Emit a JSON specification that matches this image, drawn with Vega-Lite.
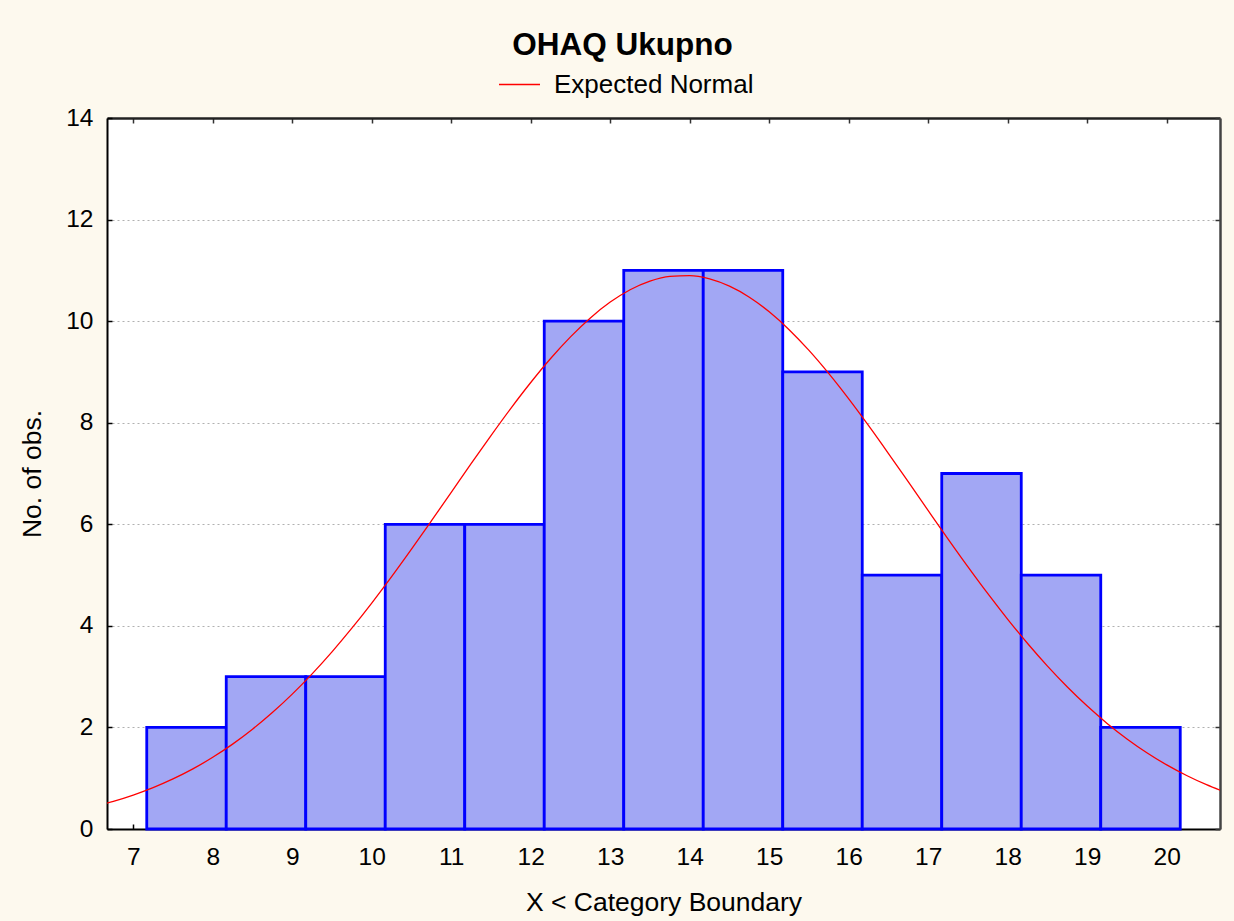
{
  "$schema": "https://vega.github.io/schema/vega-lite/v6.json",
  "width": 1113,
  "height": 711,
  "autosize": {"type": "none"},
  "padding": {"left": 107, "top": 118, "right": 14, "bottom": 92},
  "background": "#fdf9ee",
  "config": {"view": {"fill": "#ffffff", "stroke": null}, "font": "Liberation Sans"},
  "title": {"text": "OHAQ Ukupno", "fontSize": 31.5, "fontWeight": "bold", "color": "#000000", "anchor": "middle", "dx": -41, "offset": 2, "font": "Liberation Sans"},
  "layer": [
    {
      "data": {"values": [
        {"lo": 7.17, "hi": 8.17, "count": 2},
        {"lo": 8.17, "hi": 9.17, "count": 3},
        {"lo": 9.17, "hi": 10.17, "count": 3},
        {"lo": 10.17, "hi": 11.17, "count": 6},
        {"lo": 11.17, "hi": 12.17, "count": 6},
        {"lo": 12.17, "hi": 13.17, "count": 10},
        {"lo": 13.17, "hi": 14.17, "count": 11},
        {"lo": 14.17, "hi": 15.17, "count": 11},
        {"lo": 15.17, "hi": 16.17, "count": 9},
        {"lo": 16.17, "hi": 17.17, "count": 5},
        {"lo": 17.17, "hi": 18.17, "count": 7},
        {"lo": 18.17, "hi": 19.17, "count": 5},
        {"lo": 19.17, "hi": 20.17, "count": 2}
      ]},
      "mark": {"type": "bar", "fill": "#a2a7f4", "stroke": "#0000ff", "strokeWidth": 2.8},
      "encoding": {
        "x": {"field": "lo", "type": "quantitative",
          "scale": {"domain": [6.67, 20.67], "nice": false, "zero": false},
          "axis": {"orient": "bottom", "values": [7,8,9,10,11,12,13,14,15,16,17,18,19,20], "title": "X < Category Boundary",
            "titleFontSize": 26.5, "titleFontWeight": "normal", "titleColor": "#000000", "titlePadding": 21,
            "labelFontSize": 24.5, "labelColor": "#000000", "tickSize": -5, "tickColor": "#000000", "tickWidth": 1.5,
            "labelPadding": 21, "domainColor": "#000000", "domainWidth": 2, "grid": false}},
        "x2": {"field": "hi"},
        "y": {"field": "count", "type": "quantitative",
          "scale": {"domain": [0, 14], "nice": false},
          "axis": {"orient": "left", "values": [0,2,4,6,8,10,12,14], "title": "No. of obs.",
            "titleFontSize": 26.5, "titleFontWeight": "normal", "titleColor": "#000000", "titlePadding": 19,
            "labelFontSize": 24.5, "labelColor": "#000000", "tickSize": -5, "tickColor": "#000000", "tickWidth": 1.5,
            "labelPadding": 19, "domainColor": "#000000", "domainWidth": 2,
            "grid": true, "gridDash": [2, 3], "gridColor": "#b0b0b0", "gridWidth": 1}},
        "y2": {"datum": 0}
      }
    },
    {
      "data": {"values": [
        {"x": 6.5, "expected": 0.4396, "series": "Expected Normal"},
        {"x": 6.75, "expected": 0.5435, "series": "Expected Normal"},
        {"x": 7.0, "expected": 0.6676, "series": "Expected Normal"},
        {"x": 7.25, "expected": 0.8139, "series": "Expected Normal"},
        {"x": 7.5, "expected": 0.9854, "series": "Expected Normal"},
        {"x": 7.75, "expected": 1.1836, "series": "Expected Normal"},
        {"x": 8.0, "expected": 1.4119, "series": "Expected Normal"},
        {"x": 8.25, "expected": 1.6717, "series": "Expected Normal"},
        {"x": 8.5, "expected": 1.9652, "series": "Expected Normal"},
        {"x": 8.75, "expected": 2.2931, "series": "Expected Normal"},
        {"x": 9.0, "expected": 2.6564, "series": "Expected Normal"},
        {"x": 9.25, "expected": 3.0554, "series": "Expected Normal"},
        {"x": 9.5, "expected": 3.4883, "series": "Expected Normal"},
        {"x": 9.75, "expected": 3.9538, "series": "Expected Normal"},
        {"x": 10.0, "expected": 4.4486, "series": "Expected Normal"},
        {"x": 10.25, "expected": 4.9691, "series": "Expected Normal"},
        {"x": 10.5, "expected": 5.5104, "series": "Expected Normal"},
        {"x": 10.75, "expected": 6.0663, "series": "Expected Normal"},
        {"x": 11.0, "expected": 6.6292, "series": "Expected Normal"},
        {"x": 11.25, "expected": 7.1928, "series": "Expected Normal"},
        {"x": 11.5, "expected": 7.7467, "series": "Expected Normal"},
        {"x": 11.75, "expected": 8.2828, "series": "Expected Normal"},
        {"x": 12.0, "expected": 8.7913, "series": "Expected Normal"},
        {"x": 12.25, "expected": 9.2642, "series": "Expected Normal"},
        {"x": 12.5, "expected": 9.6908, "series": "Expected Normal"},
        {"x": 12.75, "expected": 10.0636, "series": "Expected Normal"},
        {"x": 13.0, "expected": 10.3751, "series": "Expected Normal"},
        {"x": 13.25, "expected": 10.6183, "series": "Expected Normal"},
        {"x": 13.5, "expected": 10.7884, "series": "Expected Normal"},
        {"x": 13.75, "expected": 10.8817, "series": "Expected Normal"},
        {"x": 14.0, "expected": 10.896, "series": "Expected Normal"},
        {"x": 14.25, "expected": 10.831, "series": "Expected Normal"},
        {"x": 14.5, "expected": 10.688, "series": "Expected Normal"},
        {"x": 14.75, "expected": 10.4708, "series": "Expected Normal"},
        {"x": 15.0, "expected": 10.1832, "series": "Expected Normal"},
        {"x": 15.25, "expected": 9.8316, "series": "Expected Normal"},
        {"x": 15.5, "expected": 9.4232, "series": "Expected Normal"},
        {"x": 15.75, "expected": 8.9661, "series": "Expected Normal"},
        {"x": 16.0, "expected": 8.4693, "series": "Expected Normal"},
        {"x": 16.25, "expected": 7.9417, "series": "Expected Normal"},
        {"x": 16.5, "expected": 7.3933, "series": "Expected Normal"},
        {"x": 16.75, "expected": 6.8327, "series": "Expected Normal"},
        {"x": 17.0, "expected": 6.2686, "series": "Expected Normal"},
        {"x": 17.25, "expected": 5.7091, "series": "Expected Normal"},
        {"x": 17.5, "expected": 5.1619, "series": "Expected Normal"},
        {"x": 17.75, "expected": 4.6332, "series": "Expected Normal"},
        {"x": 18.0, "expected": 4.1287, "series": "Expected Normal"},
        {"x": 18.25, "expected": 3.6522, "series": "Expected Normal"},
        {"x": 18.5, "expected": 3.2073, "series": "Expected Normal"},
        {"x": 18.75, "expected": 2.7962, "series": "Expected Normal"},
        {"x": 19.0, "expected": 2.42, "series": "Expected Normal"},
        {"x": 19.25, "expected": 2.0792, "series": "Expected Normal"},
        {"x": 19.5, "expected": 1.7736, "series": "Expected Normal"},
        {"x": 19.75, "expected": 1.5018, "series": "Expected Normal"},
        {"x": 20.0, "expected": 1.2622, "series": "Expected Normal"},
        {"x": 20.25, "expected": 1.0535, "series": "Expected Normal"},
        {"x": 20.5, "expected": 0.8727, "series": "Expected Normal"},
        {"x": 20.75, "expected": 0.7176, "series": "Expected Normal"}
      ]},
      "mark": {"type": "line", "strokeWidth": 1.3, "clip": true, "interpolate": "monotone"},
      "encoding": {
        "x": {"field": "x", "type": "quantitative",
          "axis": {"orient": "top", "values": [7,8,9,10,11,12,13,14,15,16,17,18,19,20], "title": null, "labels": false,
            "tickSize": -5, "tickColor": "#333333", "tickWidth": 1.5, "domainColor": "#222222", "domainWidth": 2.5, "grid": false}},
        "y": {"field": "expected", "type": "quantitative",
          "axis": {"orient": "right", "values": [0,2,4,6,8,10,12,14], "title": null, "labels": false,
            "tickSize": -5, "tickColor": "#333333", "tickWidth": 1.5, "domainColor": "#444444", "domainWidth": 2.5, "grid": false}},
        "color": {"field": "series", "type": "nominal",
          "scale": {"range": ["#ff0000"]},
          "legend": {"orient": "none", "legendX": 391, "legendY": -55, "title": null, "symbolType": "stroke",
            "symbolSize": 1681, "symbolStrokeWidth": 1.3, "labelFontSize": 26, "labelOffset": 13, "padding": 0,
            "labelLimit": 400, "labelColor": "#000000", "labelFont": "Liberation Sans"}}
      }
    }
  ],
  "resolve": {"axis": {"x": "independent", "y": "independent"}}
}
